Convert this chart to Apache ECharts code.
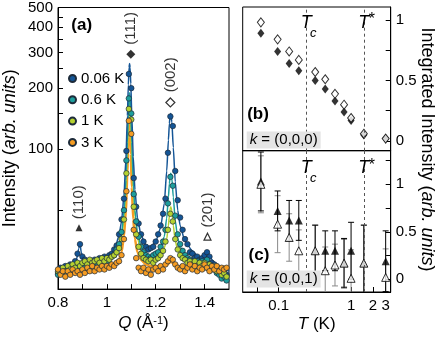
<!DOCTYPE html>
<html><head><meta charset="utf-8">
<script src="https://cdn.jsdelivr.net/npm/echarts@6/dist/echarts.min.js"></script>
<style>html,body{margin:0;padding:0;background:#fff}#c{width:443px;height:337px}</style>
</head><body><div id="c"></div>
<script>
// ---------- Panel (a): intensity vs Q ----------
const Q = [0.80,0.81,0.82,0.83,0.84,0.85,0.86,0.87,0.88,0.89,0.90,0.91,0.92,0.93,0.94,0.95,0.96,0.97,0.98,0.99,
  1.00,1.01,1.02,1.03,1.04,1.05,1.06,1.07,1.08,1.09,1.10,1.11,1.12,1.13,1.14,1.15,1.16,1.17,1.18,1.19,
  1.20,1.21,1.22,1.23,1.24,1.25,1.26,1.27,1.28,1.29,1.30,1.31,1.32,1.33,1.34,1.35,1.36,1.37,1.38,1.39,
  1.40,1.41,1.42,1.43,1.44,1.45,1.46,1.47,1.48,1.49];
const I_006 = [24.5,26,25,26.5,25.5,27,26.5,28,30.5,34,29.5,28.5,27,28,27.5,28.5,28,29,28.5,29.5,
  29,30,30.5,32,33.5,38,45,57,98,235,200,72,52,43,38,35,33,32,32.5,33,
  35,38,42,48,57,96,145,130,78,56,46,40,36,34,31,30.5,29,29.5,28.5,29,
  30,31,29.5,27.5,27,26,25.5,24.5,25,24];
const I_06 = [24,25,24.5,25.5,25,26,25.5,26.5,26,27,26.5,26,27,26.5,27.5,27,27.5,28,27.5,28.5,
  28,29,29.5,30,32,34,39,50,88,178,150,60,44,37,33,31,30,29.5,29,30,
  30.5,31,33,35,40,54,73,66,47,38,34,31.5,30,29,28.5,28,27.5,28,27,28,
  27.5,28.5,27,26,25.5,24.5,24,23,23.5,22.5];
const I_1 = [25,24.5,26,25,26.5,25.5,27,26,27.5,26.5,27.5,28,27,28.5,27.5,28,28.5,27.5,29,28,
  29,28.5,29.5,30,31,32.5,36,45,76,158,140,52,38,33,30.5,29,28.5,28,28.5,27.5,
  28.5,29,30,31.5,35,40,48,44,36,32,30,29,28.5,27.5,28,27,28,26.5,27.5,26.5,
  27.5,26,27,25.5,26.5,25,25.5,24,24.5,23.5];
const I_3 = [25.5,24,25,23.5,25,24,25.5,24.5,25,24,25.5,24.5,26,25,26.5,25,26,25.5,26.5,25.5,
  26.5,26,27,26.5,27.5,28,30,36,62,138,119,40,29,26,25,26,24.5,25.5,24,25.5,
  26,25,26.5,25.5,27,28,29,28.5,27,26,25.5,26.5,25,26,27,25.5,26.5,25,26,25.5,
  27,26,25,26.5,25.5,26.5,25,26,25.5,26];
// fitted curves
const fitQ = [0.80,0.84,0.86,0.875,0.885,0.89,0.895,0.905,0.92,0.96,1.00,1.03,1.05,1.06,1.07,1.078,1.084,1.088,1.091,1.093,
  1.095,1.098,1.102,1.108,1.115,1.125,1.14,1.16,1.18,1.20,1.22,1.235,1.245,1.252,1.256,1.259,1.262,1.266,1.272,1.28,
  1.29,1.30,1.32,1.35,1.38,1.395,1.405,1.41,1.415,1.425,1.44,1.47,1.50];
const fit_006 = [25.5,26.5,27,28.3,32.3,34.5,31,28.3,28,28.5,29.3,31.5,37.5,44,59,90,146,208,253,265,
  253,210,148,92,63,46,37.5,33.5,33,35,41,54,78,111,134,147,150,136,102,69,
  50,42,35,31.5,29,29.5,30.8,31.2,30.6,29,27.5,26,25];
const fit_06 = [24.5,25.3,25.7,26.1,26.3,26.4,26.5,26.7,26.9,27.5,28.3,30,34,38,49,70,108,151,182,190,
  182,151,108,70,50,39,33,30,29.5,30.5,32.5,37,45.7,58,67.6,73.4,76,71.8,58,44.4,
  36.5,33,30,28.5,28,28,28.2,28.3,28.2,27.8,27,25,23.5];
const fit_1 = [25,25.8,26.3,26.6,26.8,26.9,27,27.2,27.4,27.9,28.5,29.5,32,36,45,64,98,136,163,170,
  163,136,98,64,46.6,36.6,31,28.5,28,28.5,30,32.5,36,42,47,50.6,52,49.6,42,35.4,
  31.8,30,28.5,28,27.5,27.2,27,27,26.9,26.6,26,25,24];
const fit_3 = [24.8,24.8,25,25,25.1,25.1,25.2,25.3,25.5,26,26.5,27,28.5,31,37,50,77.5,115.6,141,143,
  126.7,94.8,65,45,36,31,28.4,27,26.5,26.3,26.3,26.5,26.8,27.2,27.5,27.7,27.8,27.7,27.3,26.9,
  26.6,26.4,26.3,26.3,26.3,26.3,26.3,26.3,26.3,26.3,26.3,26.3,26.3];
const tempNames = ['0.06 K','0.6 K','1 K','3 K'];
// reflection markers [Q, I]
const peak111 = [1.098, 294];
const peak002 = [1.260, 170];
const peak110 = [0.886, 41];
const peak201 = [1.412, 37];
const xTicksA = [0.8,0.9,1.0,1.1,1.2,1.3,1.4];
const xLabelsA = [0.8,1,1.2,1.4];
const yTicksA = [50,100,150,200,250,300,350,400,450,500];
const yLabelsA = [100,200,300,400,500];

// ---------- Panels (b),(c): integrated intensity vs T ----------
const T = [0.057,0.097,0.14,0.19,0.32,0.44,0.6,0.8,1.0,1.5,3.0];
const open000   = [0.98,0.84,0.74,0.67,0.57,0.51,0.39,0.30,0.19,0.06,0.02];
const filled000 = [0.89,0.74,0.64,0.58,0.50,0.43,0.33,0.24,0.17,0.05,0.02];
const filled001    = [1.03,0.72,0.62,0.62,0.30,0.30,0.30,0.17,0.30,0.17,0.19];
const filled001Err = [0.31,0.21,0.21,0.21,0.27,0.21,0.21,0.26,0.30,0.40,0.32];
const open001      = [1.00,0.58,0.44,0.30,0.30,0.09,0.15,0.17,0.01,0.17,0.02];
const open001Err   = [0.30,0.30,0.25,0.22,0.27,0.25,0.22,0.25,0.30,0.40,0.30];
const Tc = 0.24, Tstar = 1.5;
const tTicks = [0.05,0.1,1,2,3];
const tLabels = [0.1,1,2,3];
const bTicks = [0,0.25,0.5,0.75,1];
const cTicks = [0,0.25,0.5,0.75,1,1.25];
const rLabels = [0,0.5,1];

const FONT = 'Liberation Sans, Arial, Helvetica, sans-serif';
const colors = ['#145596','#1d9e9c','#b5d130','#f59c22'];

const chart = echarts.init(document.getElementById('c'), null, {renderer:'canvas'});

function axisCommon(){
  return {
    axisLine:{show:true,onZero:false,lineStyle:{color:'#000',width:1}},
    splitLine:{show:false},
    axisLabel:{color:'#000',fontSize:15,fontFamily:FONT,margin:5},
  };
}
function errRender(color){
  return function(params, api){
    const x = api.value(0), lo = api.value(1), hi = api.value(2);
    const p1 = api.coord([x, lo]), p2 = api.coord([x, hi]);
    const w = 3, st = {stroke: color, lineWidth: 1};
    return {type:'group', children:[
      {type:'line', shape:{x1:p1[0],y1:p1[1],x2:p2[0],y2:p2[1]}, style:st},
      {type:'line', shape:{x1:p1[0]-w,y1:p1[1],x2:p1[0]+w,y2:p1[1]}, style:st},
      {type:'line', shape:{x1:p2[0]-w,y1:p2[1],x2:p2[0]+w,y2:p2[1]}, style:st}
    ]};
  };
}
const dashLines = {silent:true, symbol:'none', label:{show:false},
  lineStyle:{type:[3,3],color:'#555',width:1}, data:[{xAxis:Tc},{xAxis:Tstar}]};
function tLabelPoints(yv){
  const big = {show:true, position:'inside', color:'#000', fontSize:18, fontStyle:'italic', fontFamily:FONT};
  const small = {show:true, position:'inside', color:'#000', fontSize:13, fontStyle:'italic', fontFamily:FONT};
  return {silent:true, symbol:'circle', symbolSize:0, itemStyle:{color:'transparent'},
    data:[
      {coord:[Tc,yv], label:Object.assign({},big,{formatter:'T'})},
      {coord:[Tc,yv], label:Object.assign({},small,{formatter:'c', offset:[7,10]})},
      {coord:[Tstar,yv], label:Object.assign({},big,{formatter:'T'})},
      {coord:[Tstar,yv], label:Object.assign({},small,{formatter:'*', fontSize:16, fontStyle:'normal', offset:[8,-3]})}
    ]};
}
const peakLabel = {show:true, position:'top', rotate:90, align:'left', verticalAlign:'middle',
  distance:5, color:'#000', fontSize:15, fontFamily:FONT};

const series = [];
const fits = [fit_006, fit_06, fit_1, fit_3];
const widths = [1.5,1.5,1.5,2.5];
[3,2,1,0].forEach(k => {
  series.push({type:'line', name:'fit '+tempNames[k], xAxisIndex:0, yAxisIndex:0,
    data: fitQ.map((q,i)=>[q, fits[k][i]]), showSymbol:false, smooth:0.2, smoothMonotone:'x',
    lineStyle:{color:colors[k], width:widths[k]}, z:2+ (3-k)*0.1, silent:true});
});
const pts = [I_006, I_06, I_1, I_3];
[0,1,2,3].forEach(k => {
  series.push({type:'scatter', name:tempNames[k], xAxisIndex:0, yAxisIndex:0,
    data: Q.map((q,i)=>[q, pts[k][i]]), symbol:'circle', symbolSize:5.5,
    itemStyle:{color:colors[k], borderColor:'#1d2b3a', borderWidth:0.7, opacity:1}, z:3});
});
series.push({type:'scatter', name:'reflections', xAxisIndex:0, yAxisIndex:0, z:5, silent:true,
  data:[
    {value:peak111, symbol:'diamond', symbolSize:9, itemStyle:{color:'#000'}, label:Object.assign({},peakLabel,{formatter:'(111)'})},
    {value:peak002, symbol:'diamond', symbolSize:9, itemStyle:{color:'#fff',borderColor:'#000',borderWidth:1.2}, label:Object.assign({},peakLabel,{formatter:'(002)'})},
    {value:peak110, symbol:'triangle', symbolSize:7, itemStyle:{color:'#000'}, label:Object.assign({},peakLabel,{formatter:'(110)'})},
    {value:peak201, symbol:'triangle', symbolSize:7, itemStyle:{color:'#fff',borderColor:'#000',borderWidth:1.2}, label:Object.assign({},peakLabel,{formatter:'(201)'})}
  ]});
// (b)
series.push({type:'scatter', name:'b filled', xAxisIndex:1, yAxisIndex:1, z:3,
  data:T.map((t,i)=>[t, filled000[i]]), symbol:'diamond', symbolSize:[7,9],
  itemStyle:{color:'#000'}, markLine:dashLines, markPoint:tLabelPoints(0.975)});
series.push({type:'scatter', name:'b open', xAxisIndex:1, yAxisIndex:1, z:4,
  data:T.map((t,i)=>[t, open000[i]]), symbol:'diamond', symbolSize:[7,9],
  itemStyle:{color:'#fff', borderColor:'#000', borderWidth:1}});
// (c)
series.push({type:'custom', name:'c open err', xAxisIndex:2, yAxisIndex:2, z:2, clip:true, silent:true,
  renderItem:errRender('#8a8a8a'), encode:{x:0,y:[1,2]},
  data:T.map((t,i)=>[t, open001[i]-open001Err[i], open001[i]+open001Err[i]])});
series.push({type:'custom', name:'c filled err', xAxisIndex:2, yAxisIndex:2, z:2, clip:true, silent:true,
  renderItem:errRender('#000'), encode:{x:0,y:[1,2]},
  data:T.map((t,i)=>[t, filled001[i]-filled001Err[i], filled001[i]+filled001Err[i]])});
series.push({type:'scatter', name:'c filled', xAxisIndex:2, yAxisIndex:2, z:3,
  data:T.map((t,i)=>[t, filled001[i]]), symbol:'triangle', symbolSize:8,
  itemStyle:{color:'#000'}, markLine:dashLines, markPoint:tLabelPoints(1.17)});
series.push({type:'scatter', name:'c open', xAxisIndex:2, yAxisIndex:2, z:4,
  data:T.map((t,i)=>[t, open001[i]]), symbol:'triangle', symbolSize:8,
  itemStyle:{color:'#fff', borderColor:'#000', borderWidth:1}});

const gridBox = {show:true, borderColor:'#000', borderWidth:1, backgroundColor:'transparent', containLabel:false};
const option = {
  animation:false,
  textStyle:{fontFamily:FONT},
  grid:[
    Object.assign({left:58, top:7, width:171, height:285}, gridBox),
    Object.assign({left:242.7, top:7, width:148, height:143.7}, gridBox),
    Object.assign({left:242.7, top:150.7, width:148, height:141.3}, gridBox)
  ],
  xAxis:[
    Object.assign(axisCommon(), {type:'value', gridIndex:0, min:0.8, max:1.5,
      axisTick:{show:true, inside:true, length:5, customValues:xTicksA, lineStyle:{color:'#000'}},
      axisLabel:{color:'#000',fontSize:15,fontFamily:FONT,margin:6, customValues:xLabelsA},
      name:'{i|Q} (Å{s|-1})', nameLocation:'middle', nameGap:24,
      nameTextStyle:{color:'#000', fontSize:17, fontFamily:FONT,
        rich:{i:{fontStyle:'italic',fontSize:17,fontFamily:FONT,color:'#000'},
              s:{fontSize:11,fontFamily:FONT,color:'#000',verticalAlign:'top'}}}}),
    Object.assign(axisCommon(), {type:'log', gridIndex:1, min:0.032, max:3.52,
      axisTick:{show:false}, axisLabel:{show:false}}),
    Object.assign(axisCommon(), {type:'log', gridIndex:2, min:0.032, max:3.52,
      axisTick:{show:true, inside:true, length:5, customValues:tTicks, lineStyle:{color:'#000'}},
      axisLabel:{color:'#000',fontSize:15,fontFamily:FONT,margin:6, customValues:tLabels},
      name:'{i|T} (K)', nameLocation:'middle', nameGap:24,
      nameTextStyle:{color:'#000', fontSize:17, fontFamily:FONT,
        rich:{i:{fontStyle:'italic',fontSize:17,fontFamily:FONT,color:'#000'}}}})
  ],
  yAxis:[
    Object.assign(axisCommon(), {type:'log', gridIndex:0, min:20.4, max:500,
      axisTick:{show:true, inside:true, length:5, customValues:yTicksA, lineStyle:{color:'#000'}},
      axisLabel:{color:'#000',fontSize:15,fontFamily:FONT,margin:5, customValues:yLabelsA},
      name:'Intensity ({i|arb. units})', nameLocation:'middle', nameGap:39,
      nameTextStyle:{color:'#000', fontSize:18, fontFamily:FONT,
        rich:{i:{fontStyle:'italic',fontSize:18,fontFamily:FONT,color:'#000'}}}}),
    Object.assign(axisCommon(), {type:'value', gridIndex:1, position:'right', min:-0.08, max:1.107,
      axisTick:{show:true, inside:true, length:5, customValues:bTicks, lineStyle:{color:'#000'}},
      axisLabel:{color:'#000',fontSize:15,fontFamily:FONT,margin:5, customValues:rLabels}}),
    Object.assign(axisCommon(), {type:'value', gridIndex:2, position:'right', min:-0.134, max:1.354,
      axisTick:{show:true, inside:true, length:5, customValues:cTicks, lineStyle:{color:'#000'}},
      axisLabel:{color:'#000',fontSize:15,fontFamily:FONT,margin:5, customValues:rLabels}})
  ],
  legend:{data:tempNames, orient:'vertical', left:63, top:66, itemWidth:7, itemHeight:7, itemGap:6.3,
    icon:'circle', selectedMode:false, textStyle:{color:'#000', fontSize:15, fontFamily:FONT}},
  graphic:[
    {type:'text', x:81.7, y:25.5, style:{text:'(a)', fill:'#000', font:'bold 17px '+FONT, align:'center', verticalAlign:'middle'}},
    {type:'text', x:258, y:114, style:{text:'(b)', fill:'#000', font:'bold 17px '+FONT, align:'center', verticalAlign:'middle'}},
    {type:'text', x:259, y:255, style:{text:'(c)', fill:'#000', font:'bold 17px '+FONT, align:'center', verticalAlign:'middle'}},
    {type:'text', x:246.7, y:140, z:10, style:{text:'{k|k} = (0,0,0)', fill:'#000', fontSize:15, fontFamily:FONT,
      rich:{k:{fontStyle:'italic', fontSize:15, fontFamily:FONT}},
      backgroundColor:'#e4e4e4', padding:[1,3,1,3], align:'left', verticalAlign:'middle'}},
    {type:'text', x:246.7, y:279, z:10, style:{text:'{k|k} = (0,0,1)', fill:'#000', fontSize:15, fontFamily:FONT,
      rich:{k:{fontStyle:'italic', fontSize:15, fontFamily:FONT}},
      backgroundColor:'#e4e4e4', padding:[1,3,1,3], align:'left', verticalAlign:'middle'}},
    {type:'text', x:426.5, y:149.5, rotation:-Math.PI/2,
      style:{text:'Integrated Intensity ({i|arb. units})', fill:'#000', fontSize:18, fontFamily:FONT,
      rich:{i:{fontStyle:'italic', fontSize:18, fontFamily:FONT}}, align:'center', verticalAlign:'middle'}}
  ],
  series: series
};
chart.setOption(option);
</script>
</body></html>
